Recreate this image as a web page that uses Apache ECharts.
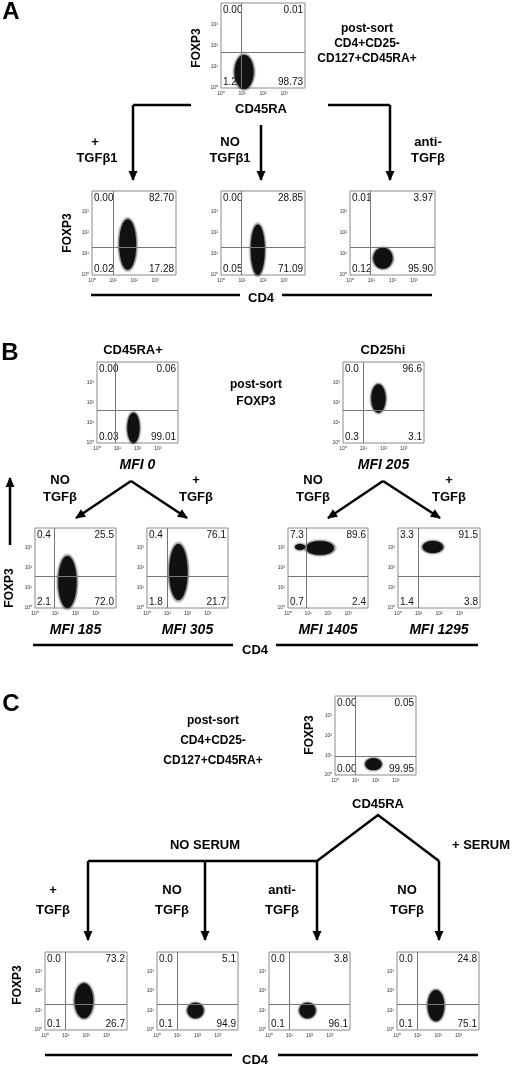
<!DOCTYPE html>
<html><head><meta charset="utf-8">
<script src="https://cdn.jsdelivr.net/npm/echarts@6/dist/echarts.min.js"></script>
<style>html,body{margin:0;padding:0;background:#fff}#c{width:520px;height:1065px}</style>
</head><body><div id="c"></div>
<script>
// ---- data (log10 decades) ----
const plotNames = ['A0','A1','A2','A3','B0','B1','B2','B3','B4','B5','C0','C1','C2','C3','C4'];
const quadrantGateX = [0.95,1.0,0.95,0.95, 0.9,1.0,0.95,1.0,0.9,1.0, 1.0,1.0,1.0,1.0,1.0];
const quadrantGateY = [1.7,1.3,1.3,1.3, 1.6,1.6,1.6,1.6,1.6,1.6, 0.95,1.3,1.3,1.3,1.3];
const quadrantPct = [
 ['0.00','0.01','1.26','98.73'],['0.00','82.70','0.02','17.28'],['0.00','28.85','0.05','71.09'],['0.01','3.97','0.12','95.90'],
 ['0.00','0.06','0.03','99.01'],['0.0','96.6','0.3','3.1'],['0.4','25.5','2.1','72.0'],['0.4','76.1','1.8','21.7'],['7.3','89.6','0.7','2.4'],['3.3','91.5','1.4','3.8'],
 ['0.00','0.05','0.00','99.95'],['0.0','73.2','0.1','26.7'],['0.0','5.1','0.1','94.9'],['0.0','3.8','0.1','96.1'],['0.0','24.8','0.1','75.1']];
// cell clouds: [centre x, centre y, spread x, spread y]
const cellClouds = [
 [[1.1,0.75,0.45,0.8]],[[1.7,1.45,0.4,1.2]],[[1.75,1.2,0.33,1.2]],[[1.55,0.8,0.45,0.5]],
 [[1.8,0.75,0.3,0.75]],[[1.75,2.2,0.35,0.7]],[[1.6,1.3,0.45,1.3]],[[1.55,1.8,0.45,1.4]],[[1.6,3.0,0.7,0.35],[0.6,3.05,0.25,0.15]],[[1.7,3.05,0.5,0.3]],
 [[1.9,0.55,0.4,0.3]],[[1.9,1.5,0.45,0.9]],[[1.9,1.0,0.4,0.4]],[[1.9,1.0,0.4,0.4]],[[1.9,1.25,0.4,0.8]]];
const mfiLabels = {B0:'MFI 0',B1:'MFI 205',B2:'MFI 185',B3:'MFI 305',B4:'MFI 1405',B5:'MFI 1295'};
const tickLabels = ['10⁰','10¹','10²','10³'];

// ---- layout ----
const boxes = [
 [221,3,84,85],[92,191,84,84],[221,191,84,84],[350,191,85,84],
 [97,362,81,81],[343,362,81,81],[35,528,81,80],[147,528,81,80],[288,528,80,80],[398,528,82,80],
 [335,696,81,79],[45,952,82,78],[157,952,81,78],[269,952,81,78],[397,952,82,78]];

const chart = echarts.init(document.getElementById('c'));
const grids=[],xAxes=[],yAxes=[],series=[],graphic=[];
const F='"Liberation Sans", Arial, sans-serif';
plotNames.forEach((n,i)=>{
  const [l,t,w,h]=boxes[i];
  grids.push({left:l,top:t,width:w,height:h,show:true,borderColor:'#8a8a8a',borderWidth:1,backgroundColor:'#fff'});
  const ax={type:'value',gridIndex:i,min:0,max:4,interval:1,splitLine:{show:false},axisLine:{show:false},axisTick:{show:false},
    axisLabel:{fontSize:5,color:'#333',margin:3,formatter:v=>tickLabels[v]||''}};
  xAxes.push(Object.assign({},ax));yAxes.push(Object.assign({},ax));
  series.push({type:'custom',xAxisIndex:i,yAxisIndex:i,data:cellClouds[i],silent:true,
    renderItem:(p,api)=>{
      const c=api.coord([api.value(0),api.value(1)]);
      const e=api.coord([api.value(0)+api.value(2),api.value(1)+api.value(3)]);
      const rx=Math.abs(e[0]-c[0]),ry=Math.abs(c[1]-e[1]);
      return {type:'group',children:[
        {type:'ellipse',shape:{cx:c[0],cy:c[1],rx:rx*1.2,ry:ry*1.1},style:{fill:'rgba(0,0,0,0.18)'}},
        {type:'ellipse',shape:{cx:c[0],cy:c[1],rx:rx,ry:ry},style:{fill:'#111',shadowBlur:3,shadowColor:'#000'}}]};
    },
    markLine:{silent:true,symbol:'none',label:{show:false},lineStyle:{color:'#777',width:1,type:'solid'},
      data:[{xAxis:quadrantGateX[i]},{yAxis:quadrantGateY[i]}]}});
  const q=quadrantPct[i];
  const st=(a,b)=>({fill:'#111',font:'10px '+F,textAlign:a,textVerticalAlign:b});
  graphic.push({type:'text',x:l+2,y:t+2,style:Object.assign({text:q[0]},st('left','top'))});
  graphic.push({type:'text',x:l+w-2,y:t+2,style:Object.assign({text:q[1]},st('right','top'))});
  graphic.push({type:'text',x:l+2,y:t+h-1,style:Object.assign({text:q[2]},st('left','bottom'))});
  graphic.push({type:'text',x:l+w-2,y:t+h-1,style:Object.assign({text:q[3]},st('right','bottom'))});
  if(mfiLabels[n]) graphic.push({type:'text',x:l+w/2,y:t+h+22,style:{text:mfiLabels[n],fill:'#000',font:'italic bold 14px '+F,textAlign:'center',textVerticalAlign:'middle'}});
});
function T(x,y,s,size,rot){graphic.push({type:'text',x:x,y:y,rotation:rot?Math.PI/2:0,style:{text:s,fill:'#000',font:'bold '+size+'px '+F,textAlign:'center',textVerticalAlign:'middle'}});}
function L(pts){graphic.push({type:'polyline',shape:{points:pts},style:{stroke:'#000',lineWidth:2.5,fill:null}});}
function A(x1,y1,x2,y2){L([[x1,y1],[x2,y2]]);const a=Math.atan2(y2-y1,x2-x1),s=9,w=4.5;
  const bx=x2-s*Math.cos(a),by=y2-s*Math.sin(a);
  graphic.push({type:'polygon',shape:{points:[[x2+1*Math.cos(a),y2+1*Math.sin(a)],[bx-w*Math.sin(a),by+w*Math.cos(a)],[bx+w*Math.sin(a),by-w*Math.cos(a)]]},style:{fill:'#000'}});}
// Panel A
T(11,12,'A',24);T(197,48,'FOXP3',12,true);T(261,109,'CD45RA',13);
T(367,29,'post-sort',12);T(367,44,'CD4+CD25-',12);T(367,59,'CD127+CD45RA+',12);
L([[191,105],[133,105]]);A(133,105,133,180);L([[328,105],[390,105]]);A(390,105,390,180);A(261,125,261,180);
T(95,142,'+',13);T(97,158,'TGFβ1',13);T(230,142,'NO',13);T(230,158,'TGFβ1',13);T(428,142,'anti-',13);T(428,158,'TGFβ',13);
T(68,233,'FOXP3',12,true);L([[91,295],[240,295]]);L([[282,295],[432,295]]);T(261,298,'CD4',13);
// Panel B
T(10,353,'B',24);T(133,350,'CD45RA+',13);T(383,350,'CD25hi',13);T(256,385,'post-sort',12);T(256,402,'FOXP3',12);
A(131,481,76,518);A(131,481,187,518);A(383,481,328,518);A(383,481,440,518);
T(60,480,'NO',13);T(60,497,'TGFβ',13);T(196,480,'+',13);T(196,497,'TGFβ',13);
T(313,480,'NO',13);T(313,497,'TGFβ',13);T(449,480,'+',13);T(449,497,'TGFβ',13);
A(10,545,10,478);T(10,588,'FOXP3',12,true);L([[33,645],[233,645]]);L([[276,645],[478,645]]);T(255,650,'CD4',13);
// Panel C
T(11,704,'C',24);T(213,721,'post-sort',12);T(213,741,'CD4+CD25-',12);T(213,761,'CD127+CD45RA+',12);
T(310,735,'FOXP3',12,true);T(378,804,'CD45RA',13);
L([[317,861],[378,815],[439,861]]);L([[88,861],[317,861]]);A(88,861,88,940);A(205,861,205,940);A(317,861,317,940);A(439,861,439,940);
T(205,845,'NO SERUM',13);T(481,845,'+ SERUM',13);
T(53,890,'+',13);T(53,910,'TGFβ',13);T(172,890,'NO',13);T(172,910,'TGFβ',13);T(282,890,'anti-',13);T(282,910,'TGFβ',13);T(407,890,'NO',13);T(407,910,'TGFβ',13);
T(18,985,'FOXP3',12,true);L([[45,1055],[232,1055]]);L([[278,1055],[478,1055]]);T(255,1060,'CD4',13);

chart.setOption({animation:false,grid:grids,xAxis:xAxes,yAxis:yAxes,series:series,graphic:graphic});
</script></body></html>
